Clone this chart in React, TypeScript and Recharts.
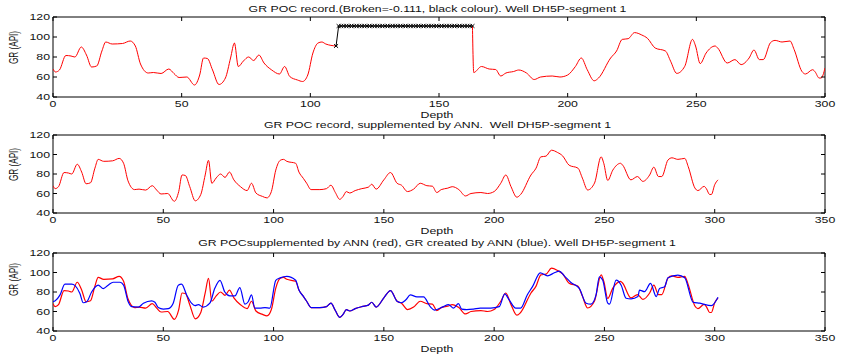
import { LineChart, Line, XAxis, YAxis, ReferenceArea } from 'recharts'

// GR log: [depth, GR (API)]
const grRecord: [number, number][] = [
  [0, 68], [1, 65], [2.5, 67], [5, 81.5], [7, 81], [8.5, 80], [11, 90], [13, 82], [15, 70], [17, 71],
  [19, 86], [20.5, 95], [23, 93], [27, 93.5], [30, 96], [32, 91], [34, 73], [37, 64], [39, 64.5], [42, 63.5],
  [45, 68], [47, 63.5], [49, 59.5], [52, 60], [55, 52], [57, 62], [58.5, 79], [60, 78.5], [62, 67], [64.5, 52.5],
  [67, 59], [69, 79], [70.5, 94], [72, 70.5], [74, 76], [76, 80], [78, 76.5], [80, 82], [82, 74], [85, 67],
  [88, 63], [90, 70.5], [92, 60.5], [95, 57], [97, 55.5], [99, 62], [101, 84], [103, 94], [104.5, 95], [106, 93],
  [110, 91], [111.5, 82], [113.5, 75.5], [115, 70.5], [117, 64], [121, 64], [124, 65], [126, 68.5], [128, 61], [130, 54],
  [131.5, 57], [133, 62], [134.5, 60.5], [137, 63], [140, 65], [143, 66.5], [144.5, 69.5], [146.5, 64.5], [150, 74], [153, 81.5],
  [156, 70.5], [158, 68.5], [160.7, 62], [163.5, 64.5], [166.5, 70.5], [169.5, 68], [172, 67.5], [174, 61], [176, 64], [179, 65.5],
  [181, 67], [184, 64], [187, 57.5], [189.5, 60], [194, 61], [197, 60], [200, 62], [203, 70.5], [205.3, 79], [207.6, 67.3],
  [210.3, 56.2], [212, 59], [216.7, 79], [219, 86], [221.2, 97.6], [223.5, 98.3], [226, 104.4], [228.8, 102], [231, 98.7], [234, 89],
  [238, 86], [240, 75.8], [242.4, 63.6], [245.5, 70.7], [248.5, 97.6], [249.7, 91], [251.5, 73.4], [253.8, 84], [257.3, 91], [258.3, 89],
  [262, 74], [265, 77.4], [267.4, 72.4], [270.5, 79], [272.4, 87], [274.5, 77.4], [276, 77.4], [278.8, 94.3], [280.6, 96.6], [283.3, 95],
  [286.4, 96], [288, 87.5], [291, 65.7], [292.4, 63], [295.2, 67.3], [296.2, 65], [297.7, 59], [298.5, 59], [300, 69], [301.5, 74],
]

// GR generated by the ANN (blue)
const grAnn: [number, number][] = [
  [0, 70], [1, 71], [3.2, 77], [5.4, 88], [8.5, 88], [10, 86.5], [12.2, 78.5], [13.7, 69], [15.3, 70], [17.5, 80],
  [20.5, 87], [22.8, 83.5], [25, 87], [27.3, 90], [30.4, 90], [32, 87], [34.1, 70], [35.6, 65], [38.7, 64.5], [41, 68.5],
  [44.7, 71], [46.2, 69.5], [47.7, 64], [50, 62.5], [52.3, 63], [54.5, 68.5], [56.8, 87], [58.3, 88], [60.6, 77], [62.8, 68.5],
  [64.4, 66], [65.9, 67], [68.1, 64.5], [71.1, 68.5], [73.4, 84], [75.7, 92], [77.9, 80], [80.2, 76], [82.5, 76], [84.7, 84.5],
  [87, 67.5], [88.5, 70], [90, 77], [91.5, 63.5], [93.8, 63.5], [96.1, 64], [98.3, 63.5], [101, 92], [103, 94.5], [106, 96],
  [110, 92], [111.5, 82], [113.5, 75.5], [115, 70.5], [117, 64], [121, 64], [124, 65], [126, 68.5], [128, 61], [130, 54],
  [131.5, 57], [133, 62], [134.5, 60.5], [137, 63], [140, 65], [143, 66.5], [144.5, 69.5], [146.5, 64.5], [150, 74], [153, 81.5],
  [156, 70.5], [158, 69], [160, 72], [162, 77], [165, 75], [168, 75], [171, 65], [173, 61.5], [177, 65], [179.3, 67],
  [181.6, 63.5], [183.8, 68], [185.3, 62.5], [187.6, 62], [190.6, 62.5], [193.7, 63.5], [198.5, 63.5], [202.3, 65], [204.8, 78], [206.8, 72],
  [209.8, 63.5], [212, 63.5], [215, 77], [217.4, 85.5], [220.9, 99.7], [224.2, 96.6], [227.3, 99.7], [229.5, 101.4], [231.8, 96.6], [234.8, 89.8],
  [238.6, 83.7], [241.7, 68.5], [243.9, 67.5], [246.2, 77], [247.7, 95.6], [249.2, 92.2], [251.5, 68.5], [252.3, 67.5], [255.3, 92.2], [257.6, 87],
  [259.8, 73.6], [262.1, 72.9], [265.2, 75.3], [265.9, 82], [268.2, 80.3], [270.9, 88.8], [273.5, 75.3], [275, 83.7], [277.3, 85.4], [278.8, 94.6],
  [283.3, 97.3], [286.4, 94.6], [290.2, 69.5], [293.2, 68.5], [298.5, 66], [301.5, 74.6],
]

// broken interval of the record (black, x markers)
const brokenDepth = [
  110, 111, 112, 113, 114, 115, 116, 117, 118, 119, 120, 121, 122, 123, 124, 125, 126, 127,
  128, 129, 130, 131, 132, 133, 134, 135, 136, 137, 138, 139, 140, 141, 142, 143, 144, 145,
  146, 147, 148, 149, 150, 151, 152, 153, 154, 155, 156, 157, 158, 159, 160, 161, 162, 163,
]
const brokenStart = 91
const brokenValue = 111
const breakFrom = 110
const breakTo = 163

const depthTicks1 = [0, 50, 100, 150, 200, 250, 300]
const depthTicks2 = [0, 50, 100, 150, 200, 250, 300, 350]
const grTicks = [40, 60, 80, 100, 120]

const titles = [
  'GR POC record.(Broken=-0.111, black colour). Well DH5P-segment 1',
  'GR POC record, supplemented by ANN.\u00a0 Well DH5P-segment 1',
  'GR POCsupplemented by ANN (red), GR created by ANN (blue). Well DH5P-segment 1',
]

const W = 841
const H = 120
const LEFT = 53
const RIGHT = 825
const TOP = 17
const FONT = '"Liberation Sans", Arial, Helvetica, sans-serif'
const FS = 8.2
const SX = 1.5

const pts = (a: [number, number][]) => a.map(([d, v]) => ({ d, v }))

const redBefore = pts(grRecord.filter(([d]) => d <= breakFrom))
const redAfter = [{ d: breakTo, v: brokenValue }, ...pts(grRecord.filter(([d]) => d > breakTo && d <= 300))]
const broken = brokenDepth.map((d, i) => ({ d, v: i === 0 ? brokenStart : brokenValue }))

function Txt({ x, y, anchor = 'middle', rotate = false, children }: any) {
  return (
    <text
      transform={`translate(${x},${y}) scale(${SX},1)${rotate ? ' rotate(-90)' : ''}`}
      textAnchor={anchor}
      fontFamily={FONT}
      fontSize={FS}
      fill="#111"
    >
      {children}
    </text>
  )
}

const XTick = ({ x, y, payload }: any) => (
  <g>
    <line x1={x} y1={y} x2={x} y2={y - 4} stroke="#000" />
    <line x1={x} y1={TOP} x2={x} y2={TOP + 4} stroke="#000" />
    <Txt x={x} y={y + 10.4}>{payload.value}</Txt>
  </g>
)

const YTick = ({ x, y, payload }: any) => (
  <g>
    <line x1={x} y1={y} x2={x + 4} y2={y} stroke="#000" />
    <line x1={RIGHT} y1={y} x2={RIGHT - 4} y2={y} stroke="#000" />
    <Txt x={x - 3} y={y + 3} anchor="end">{payload.value}</Txt>
  </g>
)

const XMark = ({ cx, cy, index }: any) => (
  <path
    key={`mk${index}`}
    d={`M${cx - 2},${cy - 1.8}L${cx + 2},${cy + 1.8}M${cx - 2},${cy + 1.8}L${cx + 2},${cy - 1.8}`}
    stroke="#000"
    strokeWidth={1}
    fill="none"
  />
)

function Panel({ top, plotH, xMax, xTicks, children }: any) {
  return (
    <div style={{ position: 'absolute', left: 0, top }}>
      <LineChart width={W} height={H} margin={{ top: TOP, right: W - RIGHT, bottom: 0, left: 0 }}>
        <XAxis
          type="number"
          dataKey="d"
          domain={[0, xMax]}
          ticks={xTicks}
          interval={0}
          allowDataOverflow
          height={H - TOP - plotH}
          tickSize={0}
          tickMargin={0}
          axisLine={false}
          tickLine={false}
          tick={(p: any) => <XTick {...p} />}
        />
        <YAxis
          type="number"
          dataKey="v"
          domain={[40, 120]}
          ticks={grTicks}
          interval={0}
          allowDataOverflow
          width={LEFT}
          tickSize={0}
          tickMargin={0}
          axisLine={false}
          tickLine={false}
          tick={(p: any) => <YTick {...p} />}
        />
        <ReferenceArea x1={0} x2={xMax} y1={40} y2={120} fill="none" stroke="#000" strokeWidth={1} />
        {children}
      </LineChart>
    </div>
  )
}

export default function App() {
  return (
    <div style={{ position: 'relative', width: W, height: 356, background: '#fff' }}>
      <style>{'body{margin:0}'}</style>
      <Panel top={0} plotH={80} xMax={300} xTicks={depthTicks1}>
        {[
          <Line key="r1" data={redBefore} dataKey="v" type="monotone" stroke="#ff0000" strokeWidth={1} dot={false} isAnimationActive={false} />,
          <Line key="r2" data={redAfter} dataKey="v" type="monotone" stroke="#ff0000" strokeWidth={1} dot={false} isAnimationActive={false} />,
          <Line key="b" data={broken} dataKey="v" type="linear" stroke="#000" strokeWidth={1} dot={(p: any) => <XMark {...p} />} isAnimationActive={false} />,
        ]}
      </Panel>
      <Panel top={118} plotH={78} xMax={350} xTicks={depthTicks2}>
        {[
          <Line key="r" data={pts(grRecord)} dataKey="v" type="monotone" stroke="#ff0000" strokeWidth={1} dot={false} isAnimationActive={false} />,
        ]}
      </Panel>
      <Panel top={236} plotH={78} xMax={350} xTicks={depthTicks2}>
        {[
          <Line key="r" data={pts(grRecord)} dataKey="v" type="monotone" stroke="#ff0000" strokeWidth={1.2} dot={false} isAnimationActive={false} />,
          <Line key="a" data={pts(grAnn)} dataKey="v" type="monotone" stroke="#0000ff" strokeWidth={1.2} dot={false} isAnimationActive={false} />,
        ]}
      </Panel>
      <svg width={W} height={356} style={{ position: 'absolute', left: 0, top: 0, pointerEvents: 'none' }}>
        <Txt x={437.5} y={12.3}>{titles[0]}</Txt>
        <Txt x={437.5} y={128}>{titles[1]}</Txt>
        <Txt x={437} y={246}>{titles[2]}</Txt>
        <Txt x={437} y={117.5}>Depth</Txt>
        <Txt x={437} y={234.3}>Depth</Txt>
        <Txt x={437} y={351.7}>Depth</Txt>
        <Txt x={17.5} y={47.5} rotate>GR (API)</Txt>
        <Txt x={17.5} y={164.5} rotate>GR (API)</Txt>
        <Txt x={17.5} y={279.5} rotate>GR (API)</Txt>
      </svg>
    </div>
  )
}
